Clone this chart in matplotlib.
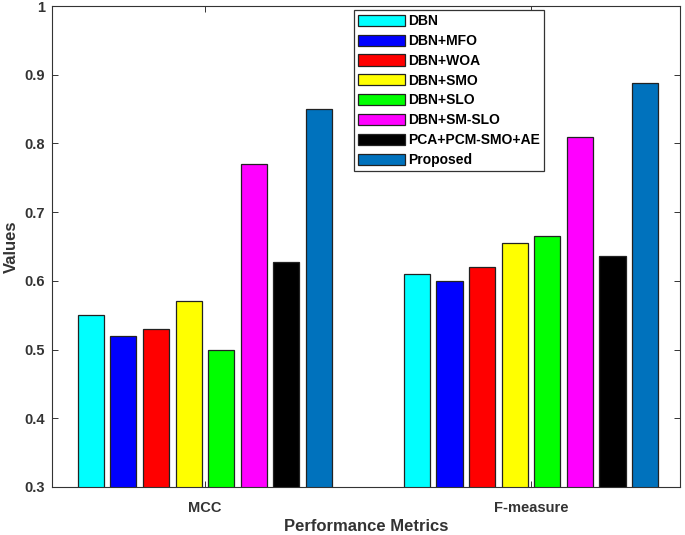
import numpy as np
import matplotlib
matplotlib.use('Agg')
import matplotlib.pyplot as plt

plt.rcParams['font.family'] = ['Liberation Sans', 'DejaVu Sans']
plt.rcParams['font.weight'] = 'bold'

metrics = ['MCC', 'F-measure']
methods = ['DBN', 'DBN+MFO', 'DBN+WOA', 'DBN+SMO', 'DBN+SLO', 'DBN+SM-SLO',
           'PCA+PCM-SMO+AE', 'Proposed']
mcc = [0.55, 0.52, 0.53, 0.57, 0.50, 0.77, 0.627, 0.85]
fmeasure = [0.61, 0.60, 0.62, 0.655, 0.665, 0.81, 0.636, 0.888]
colors = ['#00FFFF', '#0000FF', '#FF0000', '#FFFF00', '#00FF00', '#FF00FF',
          '#000000', '#0072BD']

fig = plt.figure(figsize=(6.85, 5.35), dpi=100)
ax = fig.add_axes([52/685, 48/535, 628/685, 481/535])

x = np.array([1, 2])
w = 0.08
step = 0.1
for i, m in enumerate(methods):
    vals = [mcc[i], fmeasure[i]]
    ax.bar(x + (i - 3.5)*step, vals, width=w, color=colors[i],
           edgecolor='#222222', linewidth=0.9, label=m, zorder=2)

ax.set_xlim(0.531, 2.457)
ax.set_ylim(0.3, 1.0)
ax.set_xticks(x)
ax.set_xticklabels(metrics, fontsize=10.5, fontweight='bold', color='#333333')
ax.set_yticks(np.arange(0.3, 1.01, 0.1))
ax.set_yticklabels(['0.3', '0.4', '0.5', '0.6', '0.7', '0.8', '0.9', '1'],
                   fontsize=10.5, fontweight='bold', color='#333333')
ax.tick_params(direction='in', length=4, width=0.7, color='#333333',
               top=True, right=True)
ax.tick_params(axis='y', pad=5)
ax.tick_params(axis='x', pad=10)
ax.set_xlabel('Performance Metrics', fontsize=12, fontweight='bold',
              color='#333333', labelpad=3)
ax.set_ylabel('Values', fontsize=12, fontweight='bold', color='#333333',
              labelpad=4)
for s in ax.spines.values():
    s.set_color('#333333')
    s.set_linewidth(0.8)

leg = ax.legend(loc='upper left', bbox_to_anchor=(354/685, 1 - 10/535),
                bbox_transform=fig.transFigure,
                prop={'weight': 'bold', 'size': 10},
                handlelength=3.4, handleheight=0.85, labelspacing=0.42,
                handletextpad=0.2, borderpad=0.3, borderaxespad=0,
                fancybox=False, framealpha=1, edgecolor='#333333')
leg.get_frame().set_linewidth(0.9)

fig.savefig('out.png', dpi=100)
